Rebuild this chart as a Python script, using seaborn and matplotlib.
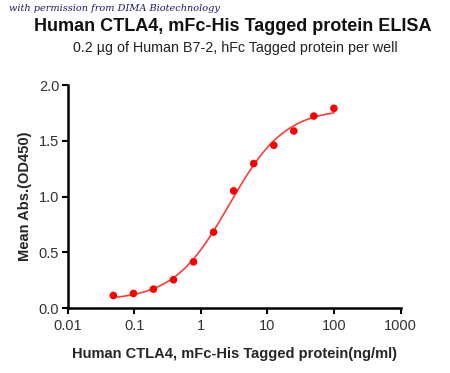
import numpy as np
import pandas as pd
import matplotlib
matplotlib.use("Agg")
import matplotlib.pyplot as plt
import seaborn as sns

# datos
concentracion = [0.0488, 0.0977, 0.195, 0.39, 0.78, 1.56, 3.125, 6.25, 12.5, 25, 50, 100]
absorbancia = [0.113, 0.131, 0.170, 0.254, 0.415, 0.681, 1.051, 1.296, 1.460, 1.588, 1.722, 1.791]
x_ticks = [0.01, 0.1, 1, 10, 100, 1000]
x_tick_labels = ["0.01", "0.1", "1", "10", "100", "1000"]
y_ticks = [0.0, 0.5, 1.0, 1.5, 2.0]

df = pd.DataFrame({"conc": concentracion, "od": absorbancia})


# ajuste 4PL sencillo (rejilla en EC50 y pendiente, minimos cuadrados para base y techo)
def ajuste_4pl(x, y):
    x = np.asarray(x)
    y = np.asarray(y)
    mejor = None
    for log_ec50 in np.linspace(-1, 2, 301):
        for hill in np.linspace(0.5, 2.5, 201):
            s = 1.0 / (1.0 + (10 ** log_ec50 / x) ** hill)
            A = np.column_stack([1 - s, s])
            coef, *_ = np.linalg.lstsq(A, y, rcond=None)
            err = np.sum((A @ coef - y) ** 2)
            if mejor is None or err < mejor[0]:
                mejor = (err, coef[0], coef[1], 10 ** log_ec50, hill)
    return mejor[1:]


base, techo, ec50, hill = ajuste_4pl(df["conc"], df["od"])
x_curva = np.logspace(np.log10(df["conc"].min()), np.log10(df["conc"].max()), 200)
curva = pd.DataFrame({"conc": x_curva,
                      "od": base + (techo - base) / (1 + (ec50 / x_curva) ** hill)})

sns.set_style("ticks")
plt.rcParams["font.family"] = ["Liberation Sans", "DejaVu Sans"]

fig = plt.figure(figsize=(4.5, 3.73), dpi=100)
ax = fig.add_axes([0.15, 0.174, 0.74, 0.598])

sns.lineplot(data=curva, x="conc", y="od", color="#ff3b3b", linewidth=1.2, ax=ax)
sns.scatterplot(data=df, x="conc", y="od", color="#ff0000", s=30, edgecolor="none", ax=ax, zorder=3)

ax.set_xscale("log")
ax.set_xlim(0.01, 1000)
ax.set_ylim(0, 2.0)
ax.set_xticks(x_ticks)
ax.set_xticklabels(x_tick_labels)
ax.set_yticks(y_ticks)
ax.set_yticklabels([f"{v:.1f}" for v in y_ticks])
ax.minorticks_off()
ax.tick_params(axis="both", labelsize=10.5, colors="black", labelcolor="#333333",
               width=1.5, length=4, direction="out", pad=2)
ax.tick_params(axis="x", pad=4)

for lado in ["left", "bottom"]:
    ax.spines[lado].set_linewidth(1.8)
    ax.spines[lado].set_color("black")
sns.despine(ax=ax)

ax.set_xlabel("Human CTLA4, mFc-His Tagged protein(ng/ml)", fontsize=10.5, weight="bold", labelpad=10)
ax.set_ylabel("Mean Abs.(OD450)", fontsize=10.5, weight="bold", labelpad=5)

fig.text(0.517, 0.928, "Human CTLA4, mFc-His Tagged protein ELISA", ha="center", va="center",
         fontsize=13, weight="bold", color="#111111")
fig.text(0.524, 0.872, "0.2 µg of Human B7-2, hFc Tagged protein per well", ha="center",
         va="center", fontsize=10.3, color="#222222")
fig.text(0.02, 0.978, "with permission from DIMA Biotechnology", ha="left", va="center",
         fontsize=7, style="italic", color="#1a1a6e", family=["DejaVu Serif"])

fig.savefig("out.png", dpi=100)
